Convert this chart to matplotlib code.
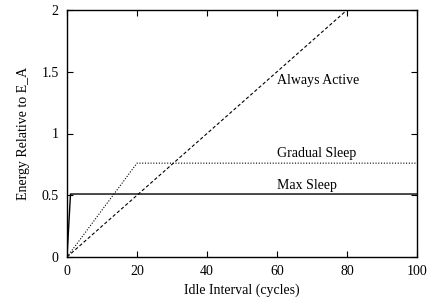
import numpy as np
import matplotlib.pyplot as plt

plt.rcParams['font.family'] = 'Liberation Serif'
plt.rcParams['font.size'] = 10

# curves (idle interval vs energy relative to E_A)
active_x = [0, 80]
active_y = [0, 2.0]
gradual_x = [0, 20, 100]
gradual_y = [0, 0.76, 0.76]
maxsleep_x = [0, 1, 100]
maxsleep_y = [0, 0.51, 0.51]

labels = ["Always Active", "Gradual Sleep", "Max Sleep"]
label_y = [1.43, 0.84, 0.58]

fig = plt.figure(figsize=(4.29, 3.01), dpi=100)
ax = fig.add_axes([67/429, 1 - 257/301, 350/429, 247/301])

ax.plot(active_x, active_y, color='black', lw=0.8, ls=(0, (3, 2)))
ax.plot(gradual_x, gradual_y, color='black', lw=0.8, ls=(0, (1, 1.5)))
ax.plot(maxsleep_x, maxsleep_y, color='black', lw=1.0)

for t, y in zip(labels, label_y):
    ax.text(60, y, t, ha='left', va='center')

ax.set_xlim(0, 100)
ax.set_ylim(0, 2)
ax.set_xticks([0, 20, 40, 60, 80, 100])
ax.set_yticks([0, 0.5, 1, 1.5, 2])
ax.set_yticklabels(['0', '0.5', '1', '1.5', '2'])
ax.tick_params(direction='in', top=True, right=True, length=4, width=0.8, pad=6)
for s in ax.spines.values():
    s.set_linewidth(1.0)
ax.set_xlabel("Idle Interval (cycles)", labelpad=4)
ax.set_ylabel("Energy Relative to E_A", labelpad=8)

fig.savefig("out.png", dpi=100)
